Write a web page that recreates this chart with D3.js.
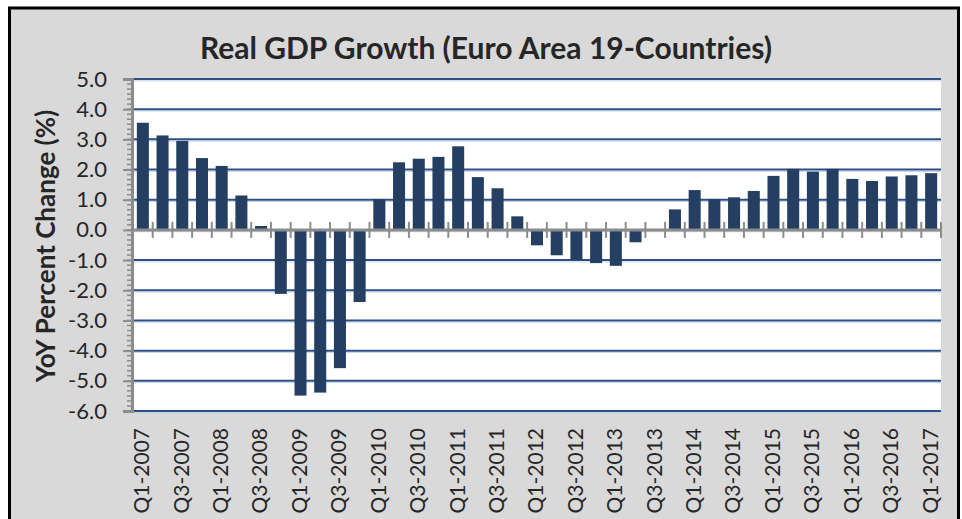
<!DOCTYPE html>
<html>
<head>
    <meta charset="UTF-8" />
    <script src="https://d3js.org/d3.v7.min.js"></script>
    <style>
        body {
            margin: 0;
            background-color: #ffffff;
        }
        svg {
            display: block;
        }
    </style>
</head>
<body>
    <div id="chart"></div>
    <script>
        // quarters, Q1-2007 .. Q1-2017
        var quarters = ["Q1-2007", "Q2-2007", "Q3-2007", "Q4-2007",
            "Q1-2008", "Q2-2008", "Q3-2008", "Q4-2008",
            "Q1-2009", "Q2-2009", "Q3-2009", "Q4-2009",
            "Q1-2010", "Q2-2010", "Q3-2010", "Q4-2010",
            "Q1-2011", "Q2-2011", "Q3-2011", "Q4-2011",
            "Q1-2012", "Q2-2012", "Q3-2012", "Q4-2012",
            "Q1-2013", "Q2-2013", "Q3-2013", "Q4-2013",
            "Q1-2014", "Q2-2014", "Q3-2014", "Q4-2014",
            "Q1-2015", "Q2-2015", "Q3-2015", "Q4-2015",
            "Q1-2016", "Q2-2016", "Q3-2016", "Q4-2016",
            "Q1-2017"];

        // YoY real GDP growth, %
        var growth = [3.55, 3.13, 2.95, 2.38,
            2.12, 1.14, 0.13, -2.12,
            -5.49, -5.39, -4.58, -2.39,
            1.02, 2.24, 2.36, 2.42,
            2.77, 1.75, 1.38, 0.45,
            -0.51, -0.84, -0.99, -1.10,
            -1.19, -0.41, 0.0, 0.68,
            1.32, 1.02, 1.08, 1.29,
            1.79, 2.02, 1.93, 2.02,
            1.69, 1.62, 1.77, 1.81,
            1.88];

        var yTicks = [-6, -5, -4, -3, -2, -1, 0, 1, 2, 3, 4, 5];

        var width = 962;
        var height = 519;
        var plot = { left: 133, right: 941, top: 79, bottom: 411 };

        var svg = d3.select("#chart")
            .append("svg")
            .attr("width", width)
            .attr("height", height);

        // outer frame
        svg.append("rect")
            .attr("x", 9.5)
            .attr("y", 8)
            .attr("width", 949)
            .attr("height", 600)
            .attr("fill", "#d9d9d9")
            .attr("stroke", "#000000")
            .attr("stroke-width", 3);

        var x = d3.scaleBand()
            .domain(quarters)
            .range([plot.left, plot.right])
            .paddingInner(0.39)
            .paddingOuter(0.195);

        var y = d3.scaleLinear()
            .domain([-6, 5])
            .range([plot.bottom, plot.top]);

        // plot area
        svg.append("rect")
            .attr("x", plot.left)
            .attr("y", plot.top)
            .attr("width", plot.right - plot.left)
            .attr("height", plot.bottom - plot.top)
            .attr("fill", "#ffffff");

        // gridlines
        var grid = svg.append("g");
        grid.selectAll(".shadow")
            .data(yTicks)
            .enter()
            .append("line")
            .attr("x1", plot.left)
            .attr("x2", plot.right)
            .attr("y1", function (d) { return y(d) + 1.8; })
            .attr("y2", function (d) { return y(d) + 1.8; })
            .attr("stroke", "#c6d4e6")
            .attr("stroke-width", 1);
        grid.selectAll(".gl")
            .data(yTicks)
            .enter()
            .append("line")
            .attr("x1", plot.left)
            .attr("x2", plot.right)
            .attr("y1", function (d) { return y(d); })
            .attr("y2", function (d) { return y(d); })
            .attr("stroke", "#2b4f86")
            .attr("stroke-width", 2);

        // bars
        svg.selectAll(".bar")
            .data(growth)
            .enter()
            .append("rect")
            .attr("x", function (d, i) { return x(quarters[i]); })
            .attr("width", x.bandwidth())
            .attr("y", function (d) { return d >= 0 ? y(d) : y(0); })
            .attr("height", function (d) { return Math.abs(y(d) - y(0)); })
            .attr("fill", "#243f61");

        // y axis with minor ticks
        var minor = d3.range(-36, 31).map(function (k) { return k / 6; });
        svg.append("g")
            .selectAll("line")
            .data(minor)
            .enter()
            .append("line")
            .attr("x1", plot.left - 6)
            .attr("x2", plot.left)
            .attr("y1", function (d) { return y(d); })
            .attr("y2", function (d) { return y(d); })
            .attr("stroke", "#8c8c8c")
            .attr("stroke-width", 1.5);

        var yAxis = d3.axisLeft(y)
            .tickValues(yTicks)
            .tickSize(9)
            .tickPadding(16)
            .tickFormat(function (d) { return d.toFixed(1); });

        var gy = svg.append("g")
            .attr("transform", "translate(" + (plot.left - 1) + ",0)")
            .call(yAxis);
        gy.select(".domain")
            .attr("stroke", "#8c8c8c")
            .attr("stroke-width", 3);
        gy.selectAll(".tick line")
            .attr("stroke", "#8c8c8c")
            .attr("stroke-width", 2);
        gy.selectAll(".tick text")
            .attr("fill", "#262626")
            .style("font-family", "Lato")
            .style("font-size", "22px");

        // x axis at zero, ticks between categories
        var bounds = quarters.map(function (q) { return x(q) - x.step() * x.paddingInner() / 2; });
        bounds.push(plot.right);
        svg.append("line")
            .attr("x1", plot.left)
            .attr("x2", plot.right)
            .attr("y1", y(0))
            .attr("y2", y(0))
            .attr("stroke", "#8c8c8c")
            .attr("stroke-width", 3);
        svg.append("g")
            .selectAll("line")
            .data(bounds.slice(1))
            .enter()
            .append("line")
            .attr("x1", function (d) { return d; })
            .attr("x2", function (d) { return d; })
            .attr("y1", y(0) - 8)
            .attr("y2", y(0) + 8)
            .attr("stroke", "#8c8c8c")
            .attr("stroke-width", 2);

        // category labels, every other quarter
        svg.append("g")
            .selectAll("text")
            .data(quarters.filter(function (q, i) { return i % 2 == 0; }))
            .enter()
            .append("text")
            .attr("transform", function (d) {
                return "translate(" + (x(d) + x.bandwidth() / 2 - 1) + ",428) rotate(-90)";
            })
            .attr("dy", "0.35em")
            .attr("text-anchor", "end")
            .attr("fill", "#262626")
            .style("font-family", "Lato")
            .style("font-size", "21px")
            .text(function (d) { return d; });

        // titles
        svg.append("text")
            .attr("x", 486)
            .attr("y", 59)
            .attr("text-anchor", "middle")
            .attr("fill", "#262626")
            .style("font-family", "Lato")
            .style("font-weight", "bold")
            .style("font-size", "30px")
            .text("Real GDP Growth (Euro Area 19-Countries)");

        svg.append("text")
            .attr("transform", "translate(46,246) rotate(-90)")
            .attr("dy", "0.35em")
            .attr("text-anchor", "middle")
            .attr("fill", "#262626")
            .style("font-family", "Lato")
            .style("font-weight", "bold")
            .style("font-size", "26px")
            .text("YoY Percent Change (%)");
    </script>
</body>
</html>
